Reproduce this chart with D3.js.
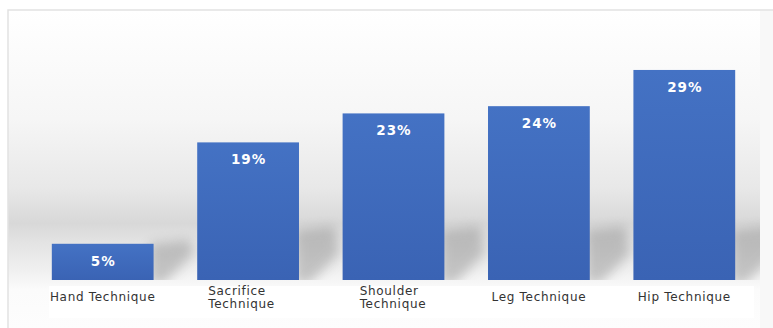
<!DOCTYPE html>
<html>

<head>
    <title>Throwing techniques</title>
    <script src="https://d3js.org/d3.v7.min.js"></script>
    <style>
        body { margin: 0; background: #ffffff; }
        svg { display: block; }
    </style>
</head>

<body>
    <script>
        // chart data
        var categories = ["Hand Technique", "Sacrifice Technique", "Shoulder Technique", "Leg Technique", "Hip Technique"];
        var labelLines = [["Hand Technique"], ["Sacrifice", "Technique"], ["Shoulder", "Technique"], ["Leg Technique"], ["Hip Technique"]];
        var values = [5, 19, 23, 24, 29];

        var width = 773, height = 328;

        var svg = d3.select("body")
            .append("svg")
            .attr("width", width)
            .attr("height", height);

        var defs = svg.append("defs");

        // background: white on top, grey band behind the bar feet
        var bg = defs.append("linearGradient")
            .attr("id", "bgGrad")
            .attr("x1", 0).attr("y1", 0).attr("x2", 0).attr("y2", 1);
        [[0, "#ffffff"], [0.34, "#f6f6f6"], [0.56, "#e8e8e8"], [0.67, "#d8d8d8"], [0.73, "#e3e3e3"],
         [0.82, "#f0f0f0"], [0.88, "#fbfbfb"], [1, "#fdfdfd"]].forEach(function (s) {
            bg.append("stop").attr("offset", s[0]).attr("stop-color", s[1]);
        });

        var barGrad = defs.append("linearGradient")
            .attr("id", "barGrad")
            .attr("x1", 0).attr("y1", 0).attr("x2", 0).attr("y2", 1);
        barGrad.append("stop").attr("offset", 0).attr("stop-color", "#4472c4");
        barGrad.append("stop").attr("offset", 1).attr("stop-color", "#3a63b4");

        defs.append("filter")
            .attr("id", "blur")
            .attr("x", "-50%").attr("y", "-50%").attr("width", "200%").attr("height", "200%")
            .append("feGaussianBlur")
            .attr("stdDeviation", 6);

        // scales
        var x = d3.scaleBand()
            .domain(categories)
            .range([30, 757])
            .paddingInner(0.3)
            .paddingOuter(0.15);

        var y = d3.scaleLinear()
            .domain([0, 35])
            .range([280, 26.5]);

        var wallRight = x.range()[1] + 3;

        defs.append("clipPath")
            .attr("id", "wall")
            .append("rect")
            .attr("x", 8).attr("y", 10)
            .attr("width", wallRight - 8).attr("height", y(0) - 10);

        // frame + background
        svg.append("rect")
            .attr("x", 8).attr("y", 10)
            .attr("width", width).attr("height", height)
            .attr("fill", "#f8f8f8");
        svg.append("rect")
            .attr("x", 8).attr("y", 10)
            .attr("width", wallRight - 8).attr("height", height - 10)
            .attr("fill", "url(#bgGrad)");
        svg.append("path")
            .attr("d", "M8," + height + "V10H" + width)
            .attr("fill", "none")
            .attr("stroke", "#e2e2e2")
            .attr("stroke-width", 1.5);

        // white strip behind the category labels
        svg.append("rect")
            .attr("x", x.range()[0] + 19)
            .attr("y", y(0) + 6)
            .attr("width", x.range()[1] - x.range()[0] - 22)
            .attr("height", 32)
            .attr("fill", "#ffffff");

        // cast shadows to the right of the bars
        svg.append("g")
            .attr("clip-path", "url(#wall)")
            .selectAll("polygon")
            .data(values)
            .enter()
            .append("polygon")
            .attr("points", function (d, i) {
                var r = x(categories[i]) + x.bandwidth();
                var b = y(0);
                var t = Math.max(y(d), b - 50);
                return [[r - 4, b + 4], [r - 4, t], [r + 36, t - 4], [r + 40, b - 26], [r + 10, b + 4]].join(" ");
            })
            .attr("fill", "#8a8a8a")
            .attr("opacity", 0.45)
            .attr("filter", "url(#blur)");

        // bars
        svg.selectAll("rect.bar")
            .data(values)
            .enter()
            .append("rect")
            .attr("class", "bar")
            .attr("x", function (d, i) { return x(categories[i]); })
            .attr("y", function (d) { return y(d); })
            .attr("width", x.bandwidth())
            .attr("height", function (d) { return y(0) - y(d); })
            .attr("fill", "url(#barGrad)");

        // value labels
        svg.selectAll("text.value")
            .data(values)
            .enter()
            .append("text")
            .attr("class", "value")
            .attr("x", function (d, i) { return x(categories[i]) + x.bandwidth() / 2 + 0.5; })
            .attr("y", function (d) { return y(d) + 22; })
            .attr("text-anchor", "middle")
            .style("font-family", "'DejaVu Sans', sans-serif")
            .style("font-weight", "bold")
            .style("font-size", "13.5px")
            .style("letter-spacing", "1px")
            .style("fill", "#ffffff")
            .text(function (d) { return d + "%"; });

        // category labels (wrapped ones are left aligned as a block)
        var catLabels = svg.selectAll("text.cat")
            .data(labelLines)
            .enter()
            .append("text")
            .attr("class", "cat")
            .style("font-family", "'DejaVu Sans', sans-serif")
            .style("font-size", "12px")
            .style("letter-spacing", "0.7px")
            .style("fill", "#333333");

        catLabels.each(function (lines, i) {
            var t = d3.select(this);
            var cx = x(categories[i]) + x.bandwidth() / 2;
            if (lines.length === 1) {
                t.attr("text-anchor", "middle")
                    .attr("x", cx)
                    .attr("y", y(0) + 21)
                    .text(lines[0]);
            } else {
                lines.forEach(function (line, j) {
                    t.append("tspan")
                        .attr("x", 0)
                        .attr("y", y(0) + 15 + j * 13)
                        .text(line);
                });
                var w = this.getBBox().width;
                t.selectAll("tspan").attr("x", cx - w / 2 - (i === 1 ? 6 : 0));
            }
        });
    </script>
</body>

</html>
